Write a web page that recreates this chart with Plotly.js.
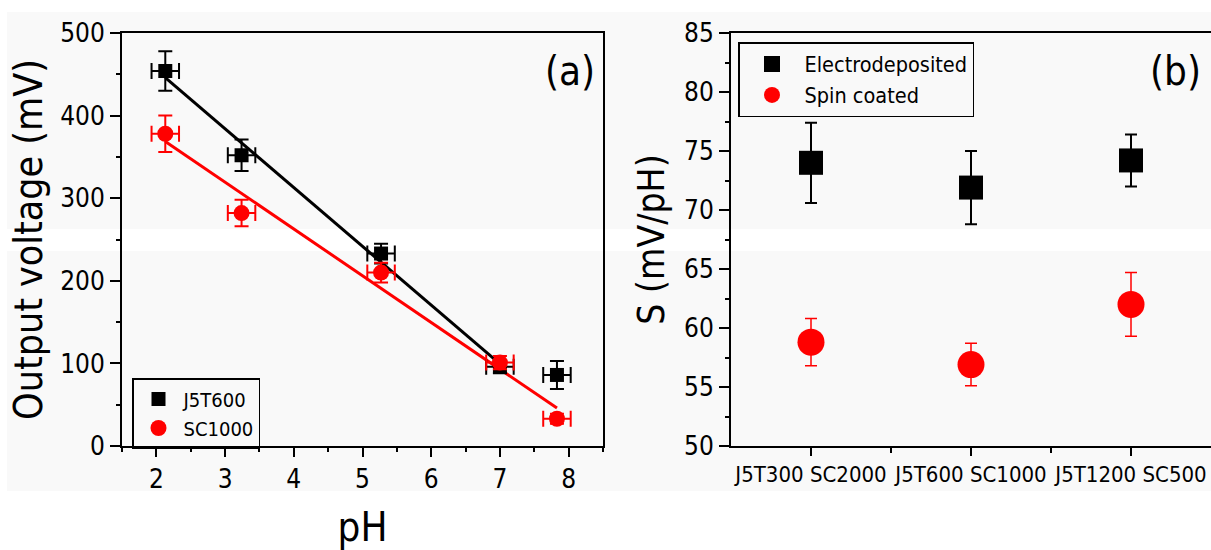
<!DOCTYPE html>
<html>
<head>
<meta charset="utf-8">
<script src="https://cdn.plot.ly/plotly-3.0.1.min.js"></script>
<style>html,body{margin:0;padding:0;background:#fff;}#chart{width:1211px;height:550px;}</style>
</head>
<body>
<div id="chart"></div>
<script>
// ---- Panel (a) data ----
var pH = [2.13, 3.24, 5.27, 7.0, 7.83];
var pHErr = [0.2, 0.2, 0.2, 0.2, 0.2];
var j5t600V = [454, 352, 233, 96, 86];
var j5t600Err = [24, 19, 12, 8, 17];
var sc1000V = [378, 282, 210, 101, 33];
var sc1000Err = [22, 16, 12, 8, 6];
var j5t600FitCount = 4;   // fit uses the first four points
var sc1000FitCount = 5;   // fit uses all points

// ---- Panel (b) data ----
var samples = ['J5T300 SC2000', 'J5T600 SC1000', 'J5T1200 SC500'];
var sampleIdx = [0, 1, 2];
var electroS = [74.0, 71.9, 74.2];
var electroErr = [3.4, 3.1, 2.2];
var spinS = [58.8, 56.9, 62.0];
var spinErr = [2.0, 1.8, 2.7];

function linFit(xs, ys, n) {
  var x = xs.slice(0, n), y = ys.slice(0, n);
  var mx = x.reduce(function(a,b){return a+b;},0)/n;
  var my = y.reduce(function(a,b){return a+b;},0)/n;
  var sxx = 0, sxy = 0;
  for (var i = 0; i < n; i++) { sxx += (x[i]-mx)*(x[i]-mx); sxy += (x[i]-mx)*(y[i]-my); }
  var k = sxy/sxx, b = my - k*mx;
  var ends = [x[0], x[n-1]];
  return {x: ends, y: ends.map(function(v){return k*v+b;})};
}
var fitA = linFit(pH, j5t600V, j5t600FitCount);
var fitB = linFit(pH, sc1000V, sc1000FitCount);

var FONT = '"DejaVu Sans Condensed", "DejaVu Sans", sans-serif';

var traces = [
  {x: fitA.x, y: fitA.y, mode: 'lines', line: {color: 'black', width: 3}, showlegend: false, hoverinfo: 'skip', xaxis: 'x', yaxis: 'y'},
  {x: fitB.x, y: fitB.y, mode: 'lines', line: {color: 'red', width: 3}, showlegend: false, hoverinfo: 'skip', xaxis: 'x', yaxis: 'y'},
  {x: pH, y: j5t600V, name: 'J5T600', mode: 'markers', type: 'scatter',
   marker: {symbol: 'square', size: 14, color: 'black'},
   error_y: {type: 'data', array: j5t600Err, color: 'black', thickness: 2, width: 7},
   error_x: {type: 'data', array: pHErr, color: 'black', thickness: 2, width: 8},
   xaxis: 'x', yaxis: 'y', legend: 'legend'},
  {x: pH, y: sc1000V, name: 'SC1000', mode: 'markers', type: 'scatter',
   marker: {symbol: 'circle', size: 16, color: 'red'},
   error_y: {type: 'data', array: sc1000Err, color: 'red', thickness: 2, width: 7},
   error_x: {type: 'data', array: pHErr, color: 'red', thickness: 2, width: 8},
   xaxis: 'x', yaxis: 'y', legend: 'legend'},
  {x: sampleIdx, y: electroS, name: 'Electrodeposited', mode: 'markers', type: 'scatter',
   marker: {symbol: 'square', size: 24, color: 'black'},
   error_y: {type: 'data', array: electroErr, color: 'black', thickness: 2, width: 6},
   xaxis: 'x2', yaxis: 'y2', legend: 'legend2'},
  {x: sampleIdx, y: spinS, name: 'Spin coated', mode: 'markers', type: 'scatter',
   marker: {symbol: 'circle', size: 27, color: 'red'},
   error_y: {type: 'data', array: spinErr, color: 'red', thickness: 1.5, width: 6},
   xaxis: 'x2', yaxis: 'y2', legend: 'legend2'}
];

var axisCommon = {
  showline: true, linecolor: 'black', linewidth: 2,
  ticks: 'outside', ticklen: 10, tickwidth: 2, tickcolor: 'black',
  showgrid: false, zeroline: false,
  tickfont: {family: FONT, size: 26, color: 'black'}
};
function ax(extra) { return Object.assign({}, axisCommon, extra); }
var minorTick = {ticks: 'outside', ticklen: 4, tickwidth: 2, tickcolor: 'black'};
function mn(extra) { return Object.assign({}, minorTick, extra); }

function py(p) { return (446 - p) / 413; }   // helper for background bands (paper units)

var layout = {
  width: 1211, height: 550,
  margin: {l: 0, r: 0, t: 33, b: 104},
  paper_bgcolor: 'white', plot_bgcolor: 'rgba(0,0,0,0)',
  font: {family: FONT, color: 'black'},
  xaxis: ax({domain: [122/1211, 603/1211], range: [1.5, 8.5], dtick: 1, tick0: 0, mirror: true, ticklen: 9,
    minor: mn({dtick: 0.5, tick0: 0}),
    title: {text: 'pH', font: {family: FONT, size: 40}, standoff: 30}}),
  yaxis: ax({domain: [0, 1], range: [0, 500], dtick: 100, mirror: true,
    minor: mn({dtick: 50}),
    title: {text: 'Output voltage (mV)', font: {family: FONT, size: 39}, standoff: 6}}),
  xaxis2: ax({domain: [731/1211, 1], range: [-0.5, 2.5], anchor: 'y2', mirror: true, ticklen: 8,
    tickmode: 'array', tickvals: sampleIdx, ticktext: samples,
    tickfont: {family: FONT, size: 22, color: 'black'},
    minor: mn({tickmode: 'array', tickvals: [0.5, 1.5], ticklen: 5})}),
  yaxis2: ax({domain: [0, 1], range: [50, 85], dtick: 5, anchor: 'x2', mirror: false,
    minor: mn({dtick: 2.5}),
    title: {text: 'S (mV/pH)', font: {family: FONT, size: 37}, standoff: 8}}),
  legend: {x: 132/1211, y: py(378), xanchor: 'left', yanchor: 'top',
    bgcolor: 'rgba(0,0,0,0)', bordercolor: 'black', borderwidth: 1.5,
    font: {family: FONT, size: 20, color: 'black'}, itemwidth: 40},
  legend2: {x: 738/1211, y: py(42), xanchor: 'left', yanchor: 'top',
    bgcolor: 'rgba(0,0,0,0)', bordercolor: 'black', borderwidth: 1.5,
    font: {family: FONT, size: 21.5, color: 'black'}, itemwidth: 55},
  shapes: [
    {type: 'rect', xref: 'paper', yref: 'paper', x0: 7/1211, x1: 1, y0: py(491), y1: py(12),
     fillcolor: '#f9f9f9', line: {width: 0}, layer: 'below'},
    {type: 'rect', xref: 'paper', yref: 'paper', x0: 0, x1: 1, y0: py(251), y1: py(229),
     fillcolor: '#ffffff', line: {width: 0}, layer: 'below'}
  ],
  annotations: [
    {text: '(a)', xref: 'paper', yref: 'paper', x: 597/1211, y: py(46), xanchor: 'right', yanchor: 'top',
     showarrow: false, font: {family: FONT, size: 40, color: 'black'}},
    {text: '(b)', xref: 'paper', yref: 'paper', x: 1203/1211, y: py(46), xanchor: 'right', yanchor: 'top',
     showarrow: false, font: {family: FONT, size: 40, color: 'black'}}
  ],
  showlegend: true
};

Plotly.newPlot('chart', traces, layout, {displayModeBar: false, staticPlot: true});
</script>
</body>
</html>
